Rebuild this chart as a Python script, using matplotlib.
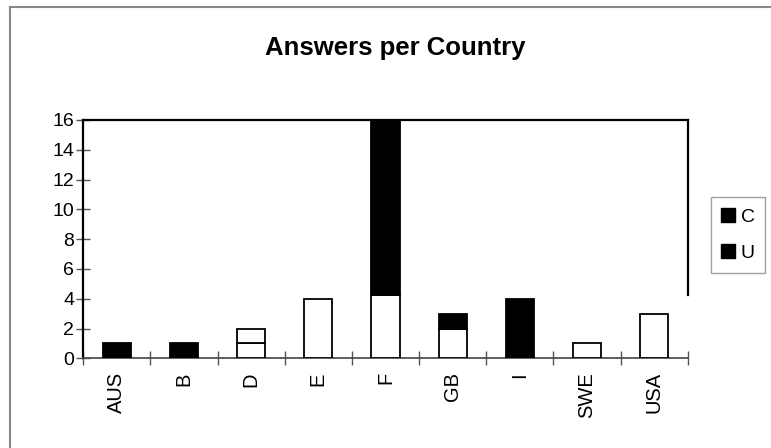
import numpy as np
import matplotlib
matplotlib.use('Agg')
import matplotlib.pyplot as plt
from matplotlib.patches import Patch
from matplotlib.lines import Line2D

# answers per country, split into the two stacked series
countries = ['AUS', 'B', 'D', 'E', 'F', 'GB', 'I', 'SWE', 'USA']
u_vals = [1, 1, 1, 4, 4.25, 2, 4, 1, 3]
c_vals = [0, 0, 1, 0, 11.75, 1, 0, 0, 0]
u_face = ['black', 'black', 'white', 'white', 'white', 'white', 'black', 'white', 'white']
c_face = ['black', 'black', 'white', 'black', 'black', 'black', 'black', 'black', 'black']
series_names = ['C', 'U']
y_ticks = [0, 2, 4, 6, 8, 10, 12, 14, 16]
frame_cut = 4.25

plt.rcParams['font.family'] = ['Liberation Sans', 'DejaVu Sans']

fig = plt.figure(figsize=(7.71, 4.48), dpi=100)
ax = fig.add_axes([0.108, 0.2002, 0.784, 0.532])

x = np.arange(len(countries))
width = 0.42
for i in range(len(countries)):
    if u_vals[i] > 0:
        ax.bar(x[i], u_vals[i], width, color=u_face[i], edgecolor='black', linewidth=1.3, zorder=3)
    if c_vals[i] > 0:
        ax.bar(x[i], c_vals[i], width, bottom=u_vals[i], color=c_face[i],
               edgecolor='black', linewidth=1.3, zorder=3)

ax.set_xlim(-0.5, len(countries) - 0.5)
ax.set_ylim(0, 16)
ax.set_yticks(y_ticks)
ax.set_xticks(x)
ax.set_xticklabels(countries, rotation=90, fontsize=14.5)
ax.set_xticks(np.arange(len(countries) + 1) - 0.5, minor=True)
ax.tick_params(axis='x', which='major', length=0, pad=10)
ax.tick_params(axis='x', which='minor', direction='inout', length=10, width=1, color='#555555')
ax.tick_params(axis='y', direction='inout', length=10, width=1, color='#555555', labelsize=14, pad=1.5)

for side in ['left', 'top', 'right']:
    ax.spines[side].set_linewidth(1.6)
    ax.spines[side].set_color('black')
ax.spines['bottom'].set_color('#444444')
ax.spines['bottom'].set_linewidth(1.2)
ax.spines['right'].set_bounds(frame_cut, 16)

fig.text(0.512, 0.893, 'Answers per Country', ha='center', va='center',
         fontsize=18.5, fontweight='bold')

# outer chart-area border (top and left edges)
fig.add_artist(Line2D([9.5 / 771, 9.5 / 771], [0, 1 - 7.5 / 448], color='#888888', lw=1.5))
fig.add_artist(Line2D([9.5 / 771, 1], [1 - 7.5 / 448, 1 - 7.5 / 448], color='#888888', lw=1.5))

handles = [Patch(facecolor='black', edgecolor='black', label=n) for n in series_names]
leg = fig.legend(handles=handles, loc='center', bbox_to_anchor=(738 / 771, 1 - 235 / 448),
                 fontsize=14, frameon=True, fancybox=False, handlelength=0.7,
                 handleheight=0.7, handletextpad=0.3, labelspacing=0.95,
                 borderpad=0.55, borderaxespad=0)
leg.get_frame().set_edgecolor('#888888')
leg.get_frame().set_linewidth(1.0)

fig.savefig('out.png', dpi=100)
